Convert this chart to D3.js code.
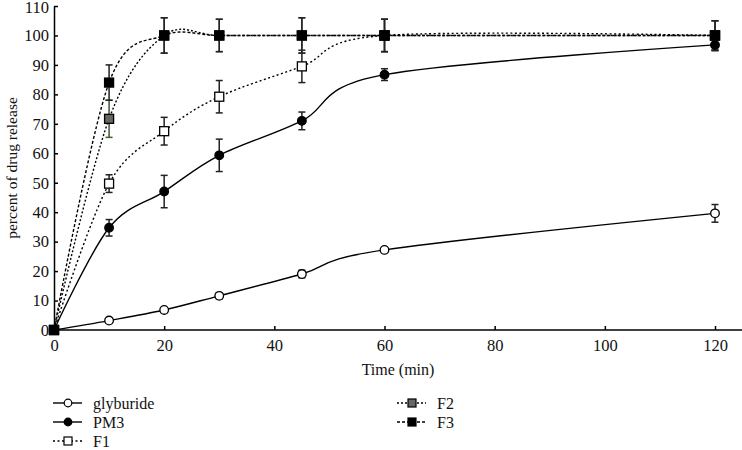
<!DOCTYPE html>
<html><head><meta charset="utf-8">
<script src="https://cdn.jsdelivr.net/npm/d3@7"></script>
<style>body{margin:0;background:#fff}svg{display:block}text{font-family:"Liberation Serif","DejaVu Serif",serif;fill:#111}</style>
</head><body><svg id="c" width="742" height="450"></svg>
<script>
const times = [0, 10, 20, 30, 45, 60, 120];
const glyburide = [0, 3.2, 6.8, 11.6, 19.0, 27.2, 39.6];
const glyburideErr = [0, 0.5, 0.7, 1.0, 1.3, 0.8, 3.0];
const pm3 = [0, 34.7, 47.0, 59.3, 71.0, 86.7, 96.8];
const pm3Err = [0, 2.8, 5.5, 5.5, 3.0, 2.0, 2.0];
const f1 = [0, 49.7, 67.5, 79.2, 89.5, 100, 100];
const f1Err = [0, 3.0, 4.7, 5.5, 5.5, 5.5, 5.0];
const f2 = [0, 71.7, 100, 100, 100, 100, 100];
const f2Err = [0, 6.3, 6.0, 5.5, 6.0, 5.5, 5.0];
const f3 = [0, 84.0, 100, 100, 100, 100, 100];
const f3Err = [0, 6.0, 6.0, 5.5, 6.0, 5.5, 5.0];
const yTicks = [0,10,20,30,40,50,60,70,80,90,100,110];
const xTicks = [0,20,40,60,80,100,120];

const series = [
  {name:"glyburide", v:glyburide, e:glyburideErr, shape:"circle", fill:"#fff", dash:null, errC:"#222"},
  {name:"PM3", v:pm3, e:pm3Err, shape:"circle", fill:"#000", dash:null, errC:"#222"},
  {name:"F1", v:f1, e:f1Err, shape:"square", fill:"#fff", dash:"2,2.5", errC:"#222"},
  {name:"F2", v:f2, e:f2Err, shape:"square", fill:"#666", dash:"2,2", errC:"#3d5a30"},
  {name:"F3", v:f3, e:f3Err, shape:"square", fill:"#000", dash:"3,2", errC:"#222"}
];

const svg = d3.select("#c");
const x = d3.scaleLinear().domain([0,120]).range([54,715]);
const y = d3.scaleLinear().domain([0,110]).range([330,6]);

// axes
const xa = svg.append("g").attr("transform","translate(0,330)")
  .call(d3.axisBottom(x).tickValues(xTicks).tickSize(-4).tickPadding(9).tickSizeOuter(0));
xa.select(".domain").attr("d","M54,0H742");
const ya = svg.append("g").attr("transform","translate(54,0)")
  .call(d3.axisLeft(y).tickValues(yTicks).tickSize(-4).tickPadding(5).tickSizeOuter(0));
[xa,ya].forEach(a=>{
  a.selectAll("path,line").attr("stroke","#000").attr("stroke-width",1.5);
  a.selectAll("text").attr("font-size",16.5).attr("fill","#111")
   .style("font-family","'Liberation Serif',serif");
});
xa.selectAll("text").attr("dy","0.71em");
ya.selectAll("text").filter(d=>d===110).attr("dy","0.42em");

svg.append("text").attr("x",398).attr("y",375).attr("text-anchor","middle")
  .attr("font-size",16).text("Time (min)");
svg.append("text").attr("transform","translate(17,168) rotate(-90)").attr("text-anchor","middle")
  .attr("font-size",15.5).text("percent of drug release");

const line = d3.line().x((d,i)=>x(times[i])).y(d=>y(d)).curve(d3.curveCardinal.tension(0));

const g = svg.append("g");
series.forEach(s=>{
  g.append("path").datum(s.v).attr("d",line).attr("fill","none").attr("stroke","#000")
   .attr("stroke-width",1.4).attr("stroke-dasharray",s.dash);
});
series.forEach(s=>{
  const eg = g.append("g");
  s.v.forEach((v,i)=>{
    if(!s.e[i]) return;
    const cx = x(times[i]);
    eg.append("line").attr("x1",cx).attr("x2",cx).attr("y1",y(v-s.e[i])).attr("y2",y(v+s.e[i]))
      .attr("stroke",s.errC).attr("stroke-width",1.5);
    [v-s.e[i], v+s.e[i]].forEach(w=>eg.append("line").attr("x1",cx-3.5).attr("x2",cx+3.5)
      .attr("y1",y(w)).attr("y2",y(w)).attr("stroke",s.errC).attr("stroke-width",1.5));
  });
});
function marker(sel, s, cx, cy){
  if(s.shape==="circle"){
    sel.append("circle").attr("cx",cx).attr("cy",cy).attr("r",4.3)
      .attr("fill",s.fill).attr("stroke","#000").attr("stroke-width",1.3);
  } else {
    sel.append("rect").attr("x",cx-4.5).attr("y",cy-4.5).attr("width",9).attr("height",9)
      .attr("fill",s.fill).attr("stroke","#000").attr("stroke-width",1.3);
  }
}
series.forEach(s=>{
  const mg = g.append("g");
  s.v.forEach((v,i)=>marker(mg, s, x(times[i]), y(v)));
});

// legend
const legPos = [[53,403],[53,422],[53,441],[397,403],[397,422]];
series.forEach((s,i)=>{
  const [lx,ly] = legPos[i];
  const lg = svg.append("g");
  lg.append("line").attr("x1",lx).attr("x2",lx+29).attr("y1",ly).attr("y2",ly)
    .attr("stroke","#000").attr("stroke-width",1.4).attr("stroke-dasharray",s.dash);
  if(s.shape==="circle"){
    lg.append("circle").attr("cx",lx+15).attr("cy",ly).attr("r",3.8)
      .attr("fill",s.fill).attr("stroke","#000").attr("stroke-width",1.2);
  } else {
    lg.append("rect").attr("x",lx+11).attr("y",ly-4).attr("width",8).attr("height",8)
      .attr("fill",s.fill).attr("stroke","#000").attr("stroke-width",1.2);
  }
  lg.append("text").attr("x", lx+40).attr("y",ly).attr("dy","0.35em")
    .attr("font-size",16).text(s.name);
});
</script></body></html>
